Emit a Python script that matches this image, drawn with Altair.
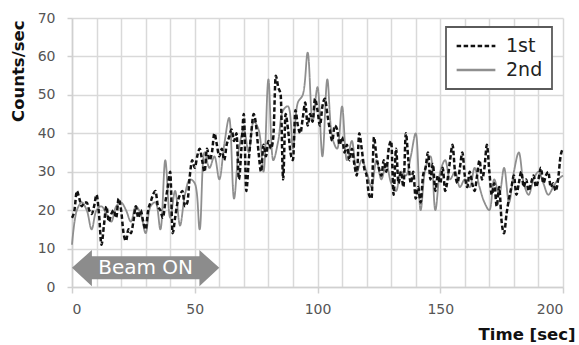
import altair as alt
import pandas as pd

# ---- data ----
first_t = list(range(0, 201))
first_v = [
    18, 20, 25, 23, 21, 22, 22, 20, 19, 21,
    24, 19, 11, 16, 21, 17, 19, 20, 18, 23,
    20, 14, 12, 15, 14, 17, 21, 18, 20, 17,
    15, 20, 22, 24, 25, 21, 20, 18, 22, 26,
    30, 14, 18, 22, 24, 25, 21, 22, 29, 33,
    31, 34, 36, 33, 30, 36, 33, 35, 40, 37,
    34, 36, 33, 37, 39, 41, 38, 40, 28, 36,
    45, 25, 33, 40, 45, 42, 35, 30, 37, 34,
    38, 36, 39, 55, 52, 50, 28, 45, 41, 35,
    33, 46, 42, 40, 44, 48, 42, 45, 43, 49,
    46, 42, 47, 49, 45, 41, 38, 42, 41, 37,
    39, 35, 37, 33, 36, 32, 29, 40, 36, 31,
    29, 24, 23, 39, 34, 31, 29, 33, 30, 36,
    38, 24, 36, 27, 30, 26, 40, 33, 27, 30,
    23, 26, 22, 29, 31, 35, 28, 32, 25, 29,
    27, 31, 25, 28, 33, 37, 30, 27, 31, 35,
    29, 26, 30, 27, 25, 29, 33, 28, 31, 37,
    30, 24, 27, 21, 26, 17, 14, 19, 23, 26,
    29, 24, 27, 30, 26, 28, 25, 27, 29, 26,
    28, 31, 27, 29, 30, 26, 27, 25, 28, 34,
    36,
]

second_t = list(range(0, 201, 2))
second_v = [
    11, 20, 22, 20, 15, 20, 21, 19, 17, 21,
    22, 20, 17, 21, 19, 14, 21, 22, 15, 33,
    18, 25, 16, 24, 28, 27, 15, 35, 31, 34,
    28, 37, 44, 23, 36, 41, 35, 43, 41, 30,
    54, 33, 38, 46, 47, 36, 48, 50, 61, 43,
    52, 34, 54, 39, 36, 47, 33, 38, 30, 33,
    30, 26, 33, 28, 32, 27, 25, 30, 29, 34,
    40, 20, 31, 34, 20, 30, 33, 28, 30, 26,
    28, 26, 31, 26, 22, 20, 28, 24, 31, 22,
    30, 35, 27, 24, 28, 30, 27, 24, 26, 28,
    29,
]

series_names = ["1st", "2nd"]
y_ticks = [0, 10, 20, 30, 40, 50, 60, 70]
x_grid = list(range(0, 201, 10))

beam_start, beam_end = 0, 60
beam_label = "Beam ON"

df1 = pd.DataFrame({"t": first_t, "v": first_v, "series": series_names[0]})
df2 = pd.DataFrame({"t": second_t, "v": second_v, "series": series_names[1]})

# arrow outline derived from the beam interval
L = beam_end - beam_start
head = 0.135 * L
arrow = pd.DataFrame({
    "t": [beam_start, beam_start + head, beam_start + head + 0.001,
          beam_end - head - 0.001, beam_end - head, beam_end],
    "lo": [5, 0.2, 2, 2, 0.2, 5],
    "hi": [5, 9.6, 8, 8, 9.6, 5],
})
label_df = pd.DataFrame({"t": [(beam_start + beam_end) / 2], "v": [5], "txt": [beam_label]})

xscale = alt.Scale(domain=[0, 200], nice=False, zero=False)
yscale = alt.Scale(domain=[0, 70], nice=False)

x_axis = alt.Axis(
    values=x_grid,
    labelExpr="datum.value % 50 === 0 ? datum.label : ''",
    labelOverlap=False,
    tickOpacity={"condition": {"test": "datum.value % 50 === 0", "value": 1}, "value": 0},
    tickSize=6,
    labelPadding=9,
    title="Time [sec]",
    titleX=503,
    titleY=52,
    titleAlign="right",
    titleBaseline="alphabetic",
    titleAnchor="end",
)
y_axis = alt.Axis(
    values=y_ticks,
    labelOverlap=False,
    tickSize=5,
    labelPadding=12,
    title="Counts/sec",
    titleAngle=270,
    titleX=-46,
    titleY=2,
    titleAlign="right",
    titleBaseline="bottom",
)

color_scale = alt.Scale(domain=series_names, range=["#111111", "#8f8f8f"])
dash_scale = alt.Scale(domain=series_names, range=[[4.5, 2.5], [1, 0]])
legend = alt.Legend(
    orient="none", legendX=374, legendY=9, title=None,
    symbolType="stroke", symbolSize=1500, symbolStrokeWidth=2.5,
    labelFontSize=19, labelColor="#222222", labelOffset=9,
    padding=9, rowPadding=4, clipHeight=20,
    strokeColor="#5a5a5a", fillColor="white",
)

X = alt.X("t:Q", scale=xscale, axis=x_axis)

arrow_layer = alt.Chart(arrow).mark_area(color="#8c8c8c", opacity=1).encode(
    x=X,
    y=alt.Y("lo:Q", scale=yscale, axis=y_axis),
    y2="hi:Q",
)
text_layer = alt.Chart(label_df).mark_text(
    color="white", fontSize=20, baseline="middle", align="center"
).encode(x=X, y=alt.Y("v:Q", scale=yscale, axis=y_axis), text="txt:N")

line2 = alt.Chart(df2).mark_line(interpolate="catmull-rom", strokeWidth=1.8).encode(
    x=X,
    y=alt.Y("v:Q", scale=yscale, axis=y_axis),
    color=alt.Color("series:N", scale=color_scale, legend=legend),
    strokeDash=alt.StrokeDash("series:N", scale=dash_scale, legend=legend),
)
line1 = alt.Chart(df1).mark_line(interpolate="monotone", strokeWidth=2.5).encode(
    x=X,
    y=alt.Y("v:Q", scale=yscale, axis=y_axis),
    color=alt.Color("series:N", scale=color_scale, legend=legend),
    strokeDash=alt.StrokeDash("series:N", scale=dash_scale, legend=legend),
)

chart = alt.layer(arrow_layer, text_layer, line2, line1).properties(
    width=491, height=269,
    padding={"left": 72, "top": 18, "right": 16, "bottom": 58},
    autosize=alt.AutoSizeParams(type="none"),
).configure(
    font="DejaVu Sans",
    background="white",
).configure_view(
    stroke=None,
).configure_axis(
    gridColor="#d9d9d9", gridWidth=1.5,
    domainColor="#d0d0d0", domainWidth=1.5,
    tickColor="#d0d0d0", tickWidth=1.5,
    labelFontSize=14, labelColor="#555555",
    labelOverlap=False,
    titleFontSize=16.5, titleFontWeight="bold", titleColor="#111111",
).configure_legend(
    strokeWidth=1.8,
)

chart.save("out.html", embed_options={"renderer": "svg", "actions": False})
